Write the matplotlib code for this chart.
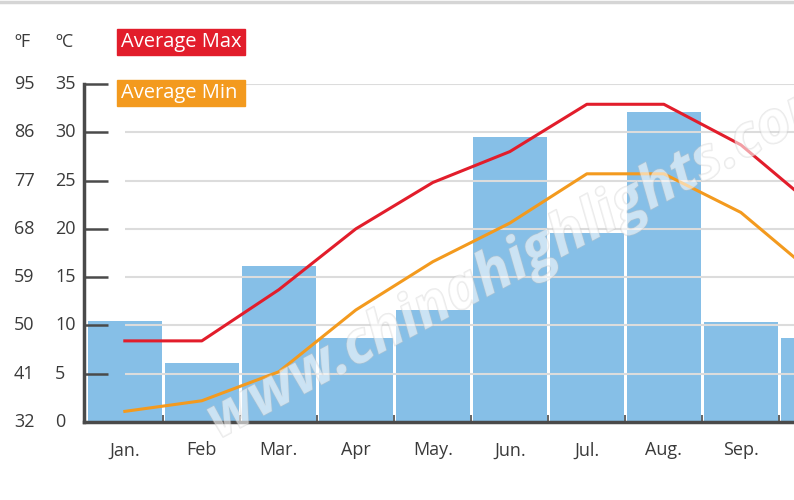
import matplotlib.pyplot as plt
import matplotlib.patheffects as pe
from matplotlib.patches import Rectangle
from matplotlib.lines import Line2D
from matplotlib.transforms import blended_transform_factory

plt.rcParams['font.family'] = ['Open Sans', 'DejaVu Sans']

months = ['Jan.', 'Feb', 'Mar.', 'Apr', 'May.', 'Jun.', 'Jul.', 'Aug.', 'Sep.', 'Oct.']
avg_max = [8.4, 8.4, 13.7, 20.0, 24.8, 28.0, 32.9, 32.9, 28.7, 22.0]
avg_min = [1.1, 2.2, 5.2, 11.6, 16.6, 20.6, 25.7, 25.7, 21.7, 15.0]
rain = [10.5, 6.1, 16.2, 8.7, 11.6, 29.5, 19.6, 32.1, 10.4, 8.7]
c_ticks = [0, 5, 10, 15, 20, 25, 30, 35]
f_ticks = [32, 41, 50, 59, 68, 77, 86, 95]

red = '#e21d2b'
orange = '#f39a1e'
blue = '#86bfe7'
dark = '#3a3a3a'

fig = plt.figure(figsize=(7.94, 5.0), dpi=100)
ax = fig.add_axes([84 / 794, 78 / 500, 710 / 794, 338 / 500])

x = list(range(len(months)))
ax.bar(x, rain, width=0.96, color=blue, zorder=1)
ax.hlines(c_ticks[1:], 0, 9.5, colors='#dcdcdc', linewidth=1.5, zorder=2)
ax.plot(x, avg_max, color=red, linewidth=2.2, zorder=3)
ax.plot(x, avg_min, color=orange, linewidth=2.2, zorder=3)

for s in ['top', 'right']:
    ax.spines[s].set_visible(False)
for s in ['left', 'bottom']:
    ax.spines[s].set_color('#4a4a4a')
    ax.spines[s].set_linewidth(2.5)

ax.set_yticks(c_ticks)
ax.set_yticklabels([])
ax.tick_params(axis='y', direction='in', length=17, width=1.8, color='#4a4a4a')

ax.set_xticks([i + 0.5 for i in x])
ax.set_xticklabels([])
ax.set_xticks(x, minor=True)
ax.set_xticklabels(months, minor=True, fontsize=13, color=dark)
ax.tick_params(axis='x', which='major', direction='in', length=5, width=1.2, color='#4a4a4a')
ax.tick_params(axis='x', which='minor', length=0, pad=14)

ax.set_xlim(-0.53, 8.69)
ax.set_ylim(0, 35)

tr = blended_transform_factory(fig.transFigure, ax.transData)
for c, f in zip(c_ticks, f_ticks):
    ax.text(14 / 794, c, str(f), transform=tr, fontsize=13, color=dark,
            ha='left', va='center')
    ax.text(55 / 794, c, str(c), transform=tr, fontsize=13, color=dark,
            ha='left', va='center')

fig.text(14 / 794, 1 - 42 / 500, 'ºF', fontsize=13, color=dark, va='center')
fig.text(55 / 794, 1 - 42 / 500, 'ºC', fontsize=13, color=dark, va='center')

# legend boxes
for y0, col, lab in [(29, red, 'Average Max'), (80, orange, 'Average Min')]:
    fig.patches.append(Rectangle((117 / 794, 1 - (y0 + 26) / 500), 128 / 794, 26 / 500,
                                 transform=fig.transFigure, color=col, zorder=5))
    fig.text(121 / 794, 1 - (y0 + 13) / 500, lab, fontsize=14.5, color='white',
             va='center', ha='left', zorder=6)

# top border
fig.lines.append(Line2D([0, 1], [1 - 1.5 / 500, 1 - 1.5 / 500], transform=fig.transFigure,
                        color='#d5d5d5', linewidth=2.5))

# watermark
fig.text(0.66, 0.48, 'www.chinahighlights.com', fontsize=42, fontweight='bold',
         fontstyle='italic', rotation=28, ha='center', va='center', color='white',
         alpha=0.35, zorder=4,
         path_effects=[pe.withStroke(linewidth=1.2, foreground='#c4c4c4')])

fig.savefig('out.png', dpi=100)
